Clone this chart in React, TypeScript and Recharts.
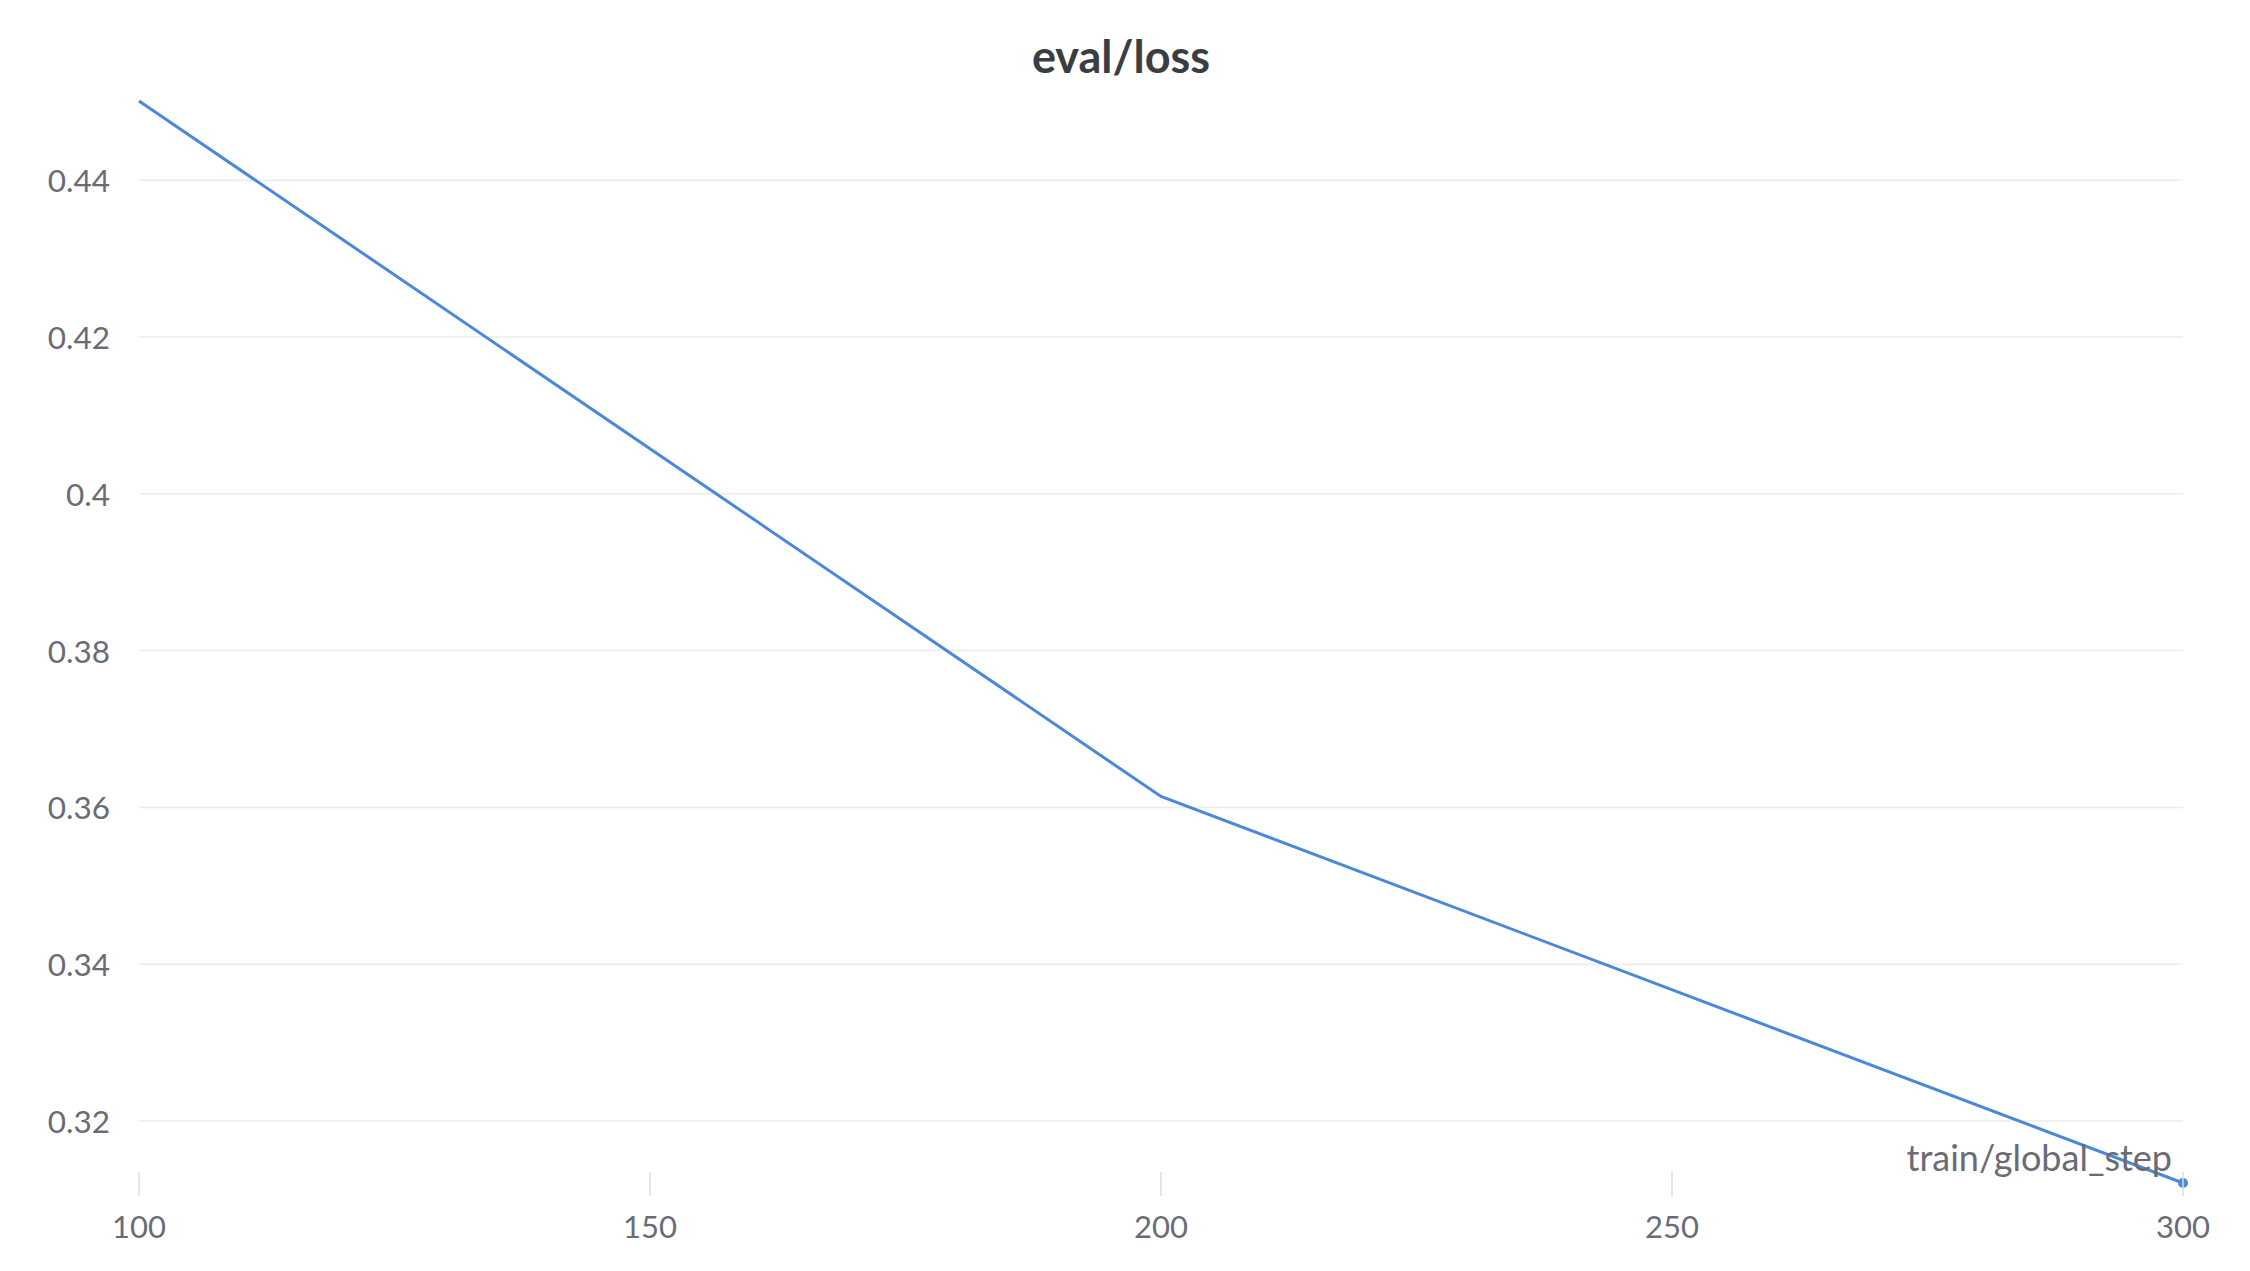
import React from 'react';
import { LineChart, Line, XAxis, YAxis, CartesianGrid } from 'recharts';

const steps = [100, 200, 300];
const evalLoss = [0.4501, 0.3614, 0.3121];
const xTicks = [100, 150, 200, 250, 300];
const yTicks = [0.32, 0.34, 0.36, 0.38, 0.4, 0.42, 0.44];

const data = steps.map((s, i) => ({ step: s, loss: evalLoss[i] }));

const FONT = 'Lato, "Noto Sans", sans-serif';
const LABEL = '#6b6b76';

const XTick = (props: any) => {
  const { x, y, payload } = props;
  return (
    <g>
      <line x1={x} x2={x} y1={y - 11} y2={y + 13} stroke="#dcdcdc" strokeWidth={1.5} />
      <text x={x} y={y + 55} textAnchor="middle" fill={LABEL} fontSize={31} fontFamily={FONT}>
        {payload.value}
      </text>
    </g>
  );
};

const YTick = (props: any) => {
  const { x, y, payload } = props;
  return (
    <text x={x} y={y + 12} textAnchor="end" fill={LABEL} fontSize={31.5} fontFamily={FONT}>
      {String(payload.value)}
    </text>
  );
};

export default function App() {
  const last = data.length - 1;
  return (
    <div style={{ position: 'absolute', left: 0, top: 0, width: 2250, height: 1271, background: '#fff' }}>
      <LineChart width={2250} height={1271} data={data} margin={{ top: 101, right: 67, bottom: 0, left: 0 }}>
        <CartesianGrid
          vertical={false}
          horizontalValues={yTicks}
          stroke="#ececec"
          strokeWidth={1.5}
        />
        <XAxis
          dataKey="step"
          type="number"
          domain={[100, 300]}
          ticks={xTicks}
          axisLine={false}
          tickLine={false}
          tickSize={0}
          tickMargin={0}
          height={88}
          tick={<XTick />}
          interval={0}
        />
        <YAxis
          type="number"
          domain={[0.3121, 0.4501]}
          ticks={yTicks}
          axisLine={false}
          tickLine={false}
          tickSize={0}
          tickMargin={29}
          width={139}
          tick={<YTick />}
          interval={0}
        />
        <Line
          type="linear"
          dataKey="loss"
          stroke="#4a88d8"
          strokeWidth={3}
          isAnimationActive={false}
          dot={(p: any) =>
            p.index === last ? (
              <circle key={`d${p.index}`} cx={p.cx} cy={p.cy} r={5} fill="#4a88d8" />
            ) : (
              <g key={`d${p.index}`} />
            )
          }
          activeDot={false}
        />
      </LineChart>
      <svg width={2250} height={1271} style={{ position: 'absolute', left: 0, top: 0, pointerEvents: 'none' }}>
        <text x={1121} y={73} textAnchor="middle" fill="#3a3d42" fontSize={45} fontWeight={700} fontFamily={FONT}>
          eval/loss
        </text>
        <text x={2172} y={1171} textAnchor="end" fill={LABEL} fontSize={36} fontFamily={FONT}>
          train/global_step
        </text>
      </svg>
    </div>
  );
}
